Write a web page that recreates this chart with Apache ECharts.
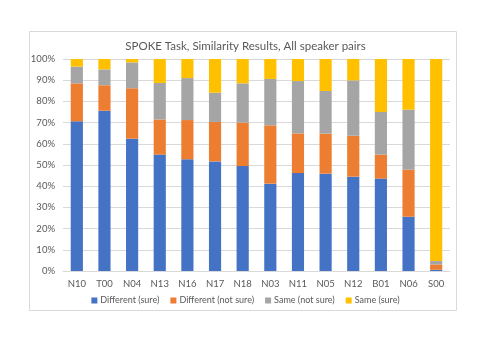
<!DOCTYPE html>
<html>
<head>
    <meta charset="utf-8" />
    <title>SPOKE Task</title>
    <style>
        html, body { margin: 0; padding: 0; background: #fff; }
        #main { width: 491px; height: 347px; }
    </style>
    <script src="https://cdn.jsdelivr.net/npm/echarts@6/dist/echarts.min.js"></script>
</head>
<body>
    <div id="main"></div>
    <script>
        // speaker pairs
        var pairs = ['N10', 'T00', 'N04', 'N13', 'N16', 'N17', 'N18', 'N03', 'N11', 'N05', 'N12', 'B01', 'N06', 'S00'];
        // percent of answers
        var diffSure = [70.6, 75.6, 62.4, 54.9, 52.7, 51.7, 49.5, 41.2, 46.2, 45.9, 44.5, 43.6, 25.6, 0.6];
        var diffNotSure = [17.9, 12.0, 23.8, 16.6, 18.5, 18.6, 20.5, 27.5, 18.7, 18.9, 19.3, 11.3, 22.2, 2.5];
        var sameNotSure = [7.9, 7.5, 12.2, 17.2, 19.8, 13.8, 18.5, 21.9, 24.7, 20.1, 26.1, 20.1, 28.3, 1.6];
        var sameSure = [3.6, 4.9, 1.6, 11.3, 9.0, 15.9, 11.5, 9.4, 10.4, 15.1, 10.1, 25.0, 23.9, 95.3];
        var names = ['Different (sure)', 'Different (not sure)', 'Same (not sure)', 'Same (sure)'];
        var colors = ['#4472C4', '#ED7D31', '#A5A5A5', '#FFC000'];

        var font = 'Lato, "Open Sans", sans-serif';
        var chart = echarts.init(document.getElementById('main'));

        var series = [diffSure, diffNotSure, sameNotSure, sameSure].map(function (d, i) {
            return {
                name: names[i],
                type: 'bar',
                stack: 'all',
                barWidth: '44%',
                itemStyle: { color: colors[i] },
                data: d
            };
        });

        chart.setOption({
            animation: false,
            color: colors,
            title: {
                text: 'SPOKE Task, Similarity Results, All speaker pairs',
                left: 'center',
                top: 35,
                textStyle: { fontFamily: font, fontSize: 11.5, fontWeight: 'normal', color: '#595959' }
            },
            graphic: [{
                type: 'rect',
                shape: { x: 29.5, y: 31.5, width: 427, height: 279 },
                style: { fill: 'none', stroke: '#D9D9D9', lineWidth: 1 },
                silent: true,
                z: -1
            }],
            grid: { left: 63, right: 41, top: 59, bottom: 76 },
            legend: {
                bottom: 37,
                left: 'center',
                itemWidth: 6,
                itemHeight: 6,
                itemGap: 11,
                icon: 'rect',
                textStyle: { fontFamily: font, fontSize: 9, color: '#595959', padding: [0, 0, 0, -2] },
                data: names
            },
            xAxis: {
                type: 'category',
                data: pairs,
                axisLine: { lineStyle: { color: '#D9D9D9' } },
                axisTick: { show: false },
                axisLabel: { fontFamily: font, fontSize: 9.5, color: '#595959', margin: 8 }
            },
            yAxis: {
                type: 'value',
                min: 0,
                max: 100,
                interval: 10,
                axisLine: { show: false },
                axisTick: { show: false },
                splitLine: { lineStyle: { color: '#D9D9D9' } },
                axisLabel: { fontFamily: font, fontSize: 9.5, color: '#595959', margin: 8, formatter: '{value}%' }
            },
            series: series
        });
    </script>
</body>
</html>
